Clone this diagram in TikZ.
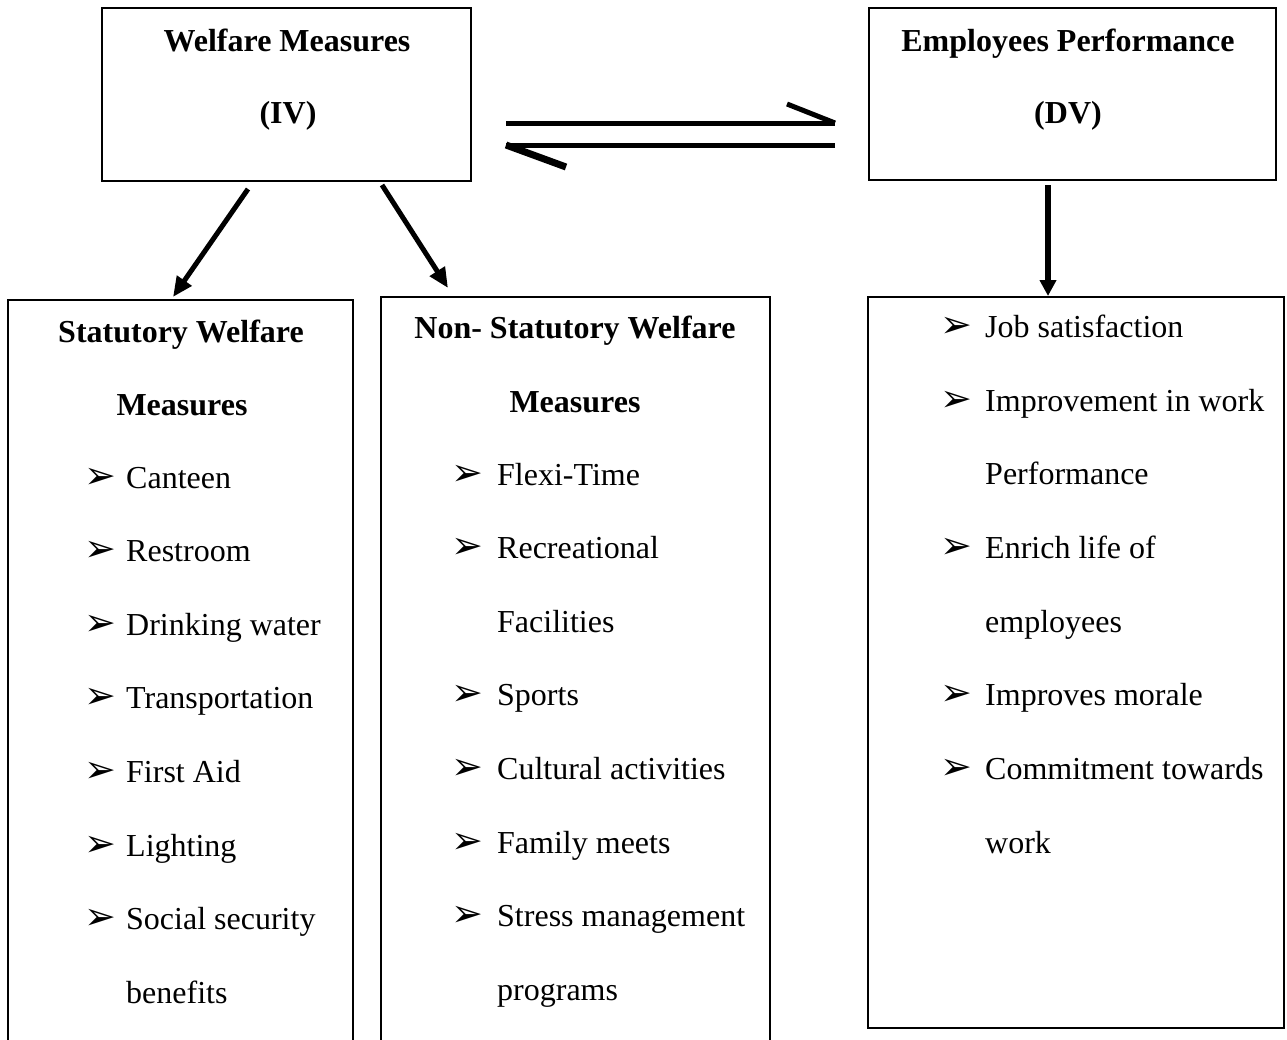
\documentclass[tikz,border=0pt]{standalone}
\usepackage{fontspec}
\setmainfont{Liberation Serif}
\newfontfamily\dejavu{DejaVu Sans}
\usetikzlibrary{arrows.meta}
\tikzset{
  box/.style={draw, line width=2pt, inner sep=0pt},
  txt/.style={inner sep=0pt, font=\fontsize{32}{32}\selectfont},
  hdr/.style={inner sep=0pt, font=\fontsize{32}{32}\selectfont\bfseries},
  bul/.style={inner sep=0pt, font=\fontsize{38}{38}\selectfont\dejavu},
  conn/.style={line width=5pt, -{Triangle[length=20pt,width=17pt]}},
  eq/.style={line width=5pt, line cap=butt}
}
\begin{document}
\begin{tikzpicture}[x=1pt,y=-1pt]
\useasboundingbox[fill=white] (0,0) rectangle (1287,1039);
% boxes
\node[box, minimum width=369pt, minimum height=173pt] (wm) at (286.5,94.5) {};
\node[box, minimum width=407pt, minimum height=172pt] (ep) at (1072.5,94) {};
\node[box, minimum width=345pt, minimum height=760pt] (st) at (180.5,680) {};
\node[box, minimum width=389pt, minimum height=763pt] (ns) at (575,678.5) {};
\node[box, minimum width=416pt, minimum height=731pt] (dv) at (1076,662.5) {};
% header texts
\node[hdr, anchor=base] (wm1) at (287,51) {Welfare Measures};
\node[hdr, anchor=base] (wm2) at (288,123) {(IV)};
\node[hdr, anchor=base] (ep1) at (1068,51) {Employees Performance};
\node[hdr, anchor=base] (ep2) at (1068,123) {(DV)};
% statutory
\node[hdr, anchor=base] (st1) at (181,342) {Statutory Welfare};
\node[hdr, anchor=base] (st2) at (182,415) {Measures};
\node[bul, anchor=base west] (sb1) at (84,488) {➢};
\node[txt, anchor=base west] (s1) at (126,488) {Canteen};
\node[bul, anchor=base west] (sb2) at (84,561) {➢};
\node[txt, anchor=base west] (s2) at (126,561) {Restroom};
\node[bul, anchor=base west] (sb3) at (84,635) {➢};
\node[txt, anchor=base west] (s3) at (126,635) {Drinking water};
\node[bul, anchor=base west] (sb4) at (84,708) {➢};
\node[txt, anchor=base west] (s4) at (126,708) {Transportation};
\node[bul, anchor=base west] (sb5) at (84,782) {➢};
\node[txt, anchor=base west] (s5) at (126,782) {First Aid};
\node[bul, anchor=base west] (sb6) at (84,856) {➢};
\node[txt, anchor=base west] (s6) at (126,856) {Lighting};
\node[bul, anchor=base west] (sb7) at (84,929) {➢};
\node[txt, anchor=base west] (s7) at (126,929) {Social security};
\node[txt, anchor=base west] (s8) at (126,1003) {benefits};
% non-statutory
\node[hdr, anchor=base] (ns1) at (575,338) {Non- Statutory Welfare};
\node[hdr, anchor=base] (ns2) at (575,412) {Measures};
\node[bul, anchor=base west] (nb1) at (451,485) {➢};
\node[txt, anchor=base west] (n1) at (497,485) {Flexi-Time};
\node[bul, anchor=base west] (nb2) at (451,558) {➢};
\node[txt, anchor=base west] (n2) at (497,558) {Recreational};
\node[txt, anchor=base west] (n3) at (497,632) {Facilities};
\node[bul, anchor=base west] (nb4) at (451,705) {➢};
\node[txt, anchor=base west] (n4) at (497,705) {Sports};
\node[bul, anchor=base west] (nb5) at (451,779) {➢};
\node[txt, anchor=base west] (n5) at (497,779) {Cultural activities};
\node[bul, anchor=base west] (nb6) at (451,853) {➢};
\node[txt, anchor=base west] (n6) at (497,853) {Family meets};
\node[bul, anchor=base west] (nb7) at (451,926) {➢};
\node[txt, anchor=base west] (n7) at (497,926) {Stress management};
\node[txt, anchor=base west] (n8) at (497,1000) {programs};
% dependent variable list
\node[bul, anchor=base west] (db1) at (940,337) {➢};
\node[txt, anchor=base west] (d1) at (985,337) {Job satisfaction};
\node[bul, anchor=base west] (db2) at (940,411) {➢};
\node[txt, anchor=base west] (d2) at (985,411) {Improvement in work};
\node[txt, anchor=base west] (d3) at (985,484) {Performance};
\node[bul, anchor=base west] (db4) at (940,558) {➢};
\node[txt, anchor=base west] (d4) at (985,558) {Enrich life of};
\node[txt, anchor=base west] (d5) at (985,632) {employees};
\node[bul, anchor=base west] (db6) at (940,705) {➢};
\node[txt, anchor=base west] (d6) at (985,705) {Improves morale};
\node[bul, anchor=base west] (db7) at (940,779) {➢};
\node[txt, anchor=base west] (d7) at (985,779) {Commitment towards};
\node[txt, anchor=base west] (d8) at (985,853) {work};
% connectors
\coordinate (a1s) at (248,189);
\coordinate (a1e) at (173,297);
\coordinate (a2s) at (382,185);
\coordinate (a2e) at (448,288);
\coordinate (a3s) at (1048,185);
\draw[conn] (a1s) -- (a1e);
\draw[conn] (a2s) -- (a2e);
\draw[conn, line width=6pt, -{Triangle[length=16pt,width=16pt]}] (a3s) -- (dv.north -| a3s);
% equilibrium arrows
\coordinate (eqA) at (506,123);
\coordinate (eqB) at (835,123);
\coordinate (eqBb) at (787,104);
\coordinate (eqC) at (835,145);
\coordinate (eqD) at (506,145);
\coordinate (eqDb) at (566,167);
\draw[eq] (eqA) -- (eqB);
\draw[eq] (eqB) -- (eqBb);
\draw[eq] (eqC) -- (eqD);
\draw[eq, line width=7pt] (eqD) -- (eqDb);
\end{tikzpicture}
\end{document}
